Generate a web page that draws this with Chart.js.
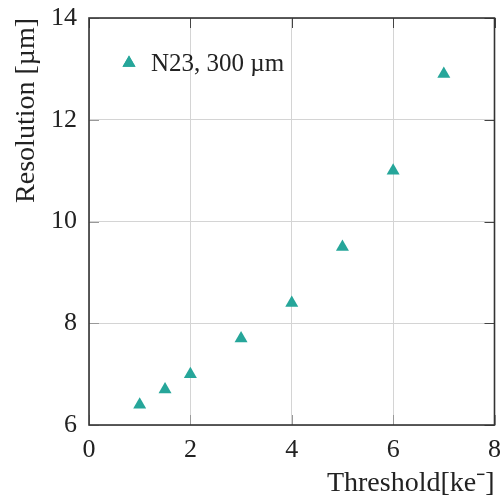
<!DOCTYPE html>
<html>
<head>
<meta charset="utf-8">
<script src="https://cdn.jsdelivr.net/npm/chart.js@4/dist/chart.umd.min.js"></script>
<style>
  html, body { margin: 0; padding: 0; background: #fff; }
  #wrap { width: 502px; height: 501px; }
</style>
</head>
<body>
<div id="wrap"><canvas id="chart" width="502" height="501"></canvas></div>
<script>
const thresholds = [1, 1.5, 2, 3, 4, 5, 6, 7];
const resolution = [6.4, 6.7, 7.0, 7.7, 8.4, 9.5, 11.0, 12.9];
const seriesLabel = "N23, 300 µm";
const xTicks = [0, 2, 4, 6, 8];
const yTicks = [6, 8, 10, 12, 14];

const teal = "#26a69a";
const serif = "'Liberation Serif', 'Times New Roman', serif";

// frame round the plot with pgfplots-style inward ticks
const framePlugin = {
  id: "frame",
  afterDraw(chart) {
    const { ctx, chartArea: a, scales } = chart;
    const len = 10;
    ctx.save();
    ctx.lineWidth = 1;
    xTicks.forEach((v) => {
      const px = Math.round(scales.x.getPixelForValue(v)) + 0.5;
      ctx.strokeStyle = "#999";
      ctx.beginPath(); ctx.moveTo(px, a.bottom); ctx.lineTo(px, a.bottom - len); ctx.stroke();
      ctx.strokeStyle = "#444";
      ctx.beginPath(); ctx.moveTo(px, a.top); ctx.lineTo(px, a.top + len); ctx.stroke();
    });
    yTicks.forEach((v) => {
      const py = Math.round(scales.y.getPixelForValue(v)) + 0.5;
      ctx.strokeStyle = "#999";
      ctx.beginPath(); ctx.moveTo(a.left, py); ctx.lineTo(a.left + len, py); ctx.stroke();
      ctx.strokeStyle = "#444";
      ctx.beginPath(); ctx.moveTo(a.right, py); ctx.lineTo(a.right - len, py); ctx.stroke();
    });
    ctx.strokeStyle = "#333";
    ctx.lineWidth = 1.6;
    ctx.strokeRect(a.left, a.top, a.right - a.left, a.bottom - a.top);
    ctx.restore();
  },
};

// legend drawn inside the plot, top left, without a box
const insideLegend = {
  id: "insideLegend",
  afterDatasetsDraw(chart) {
    const { ctx, chartArea: a } = chart;
    const ds = chart.data.datasets[0];
    const mx = a.left + 40, my = a.top + 45;
    ctx.save();
    ctx.fillStyle = ds.backgroundColor;
    const style = { pointStyle: "triangle", radius: ds.pointRadius, borderWidth: 0, rotation: 0 };
    if (Chart.helpers && Chart.helpers.drawPoint) {
      Chart.helpers.drawPoint(ctx, style, mx, my);
      ctx.fill();
    }
    ctx.fillStyle = "#222";
    ctx.font = "25px " + serif;
    ctx.textBaseline = "middle";
    ctx.textAlign = "left";
    ctx.fillText(ds.label, mx + 22, my + 1);
    ctx.restore();
  },
};

new Chart(document.getElementById("chart"), {
  type: "scatter",
  data: {
    datasets: [
      {
        label: seriesLabel,
        data: thresholds.map((x, i) => ({ x, y: resolution[i] })),
        pointStyle: "triangle",
        pointRadius: 7.5,
        pointHoverRadius: 7.5,
        backgroundColor: teal,
        borderColor: teal,
        borderWidth: 0,
      },
    ],
  },
  options: {
    responsive: false,
    animation: false,
    layout: { padding: { top: 18, right: 7, left: 0, bottom: 0 } },
    plugins: { legend: { display: false }, tooltip: { enabled: false } },
    scales: {
      x: {
        type: "linear",
        min: 0,
        max: 8,
        afterBuildTicks: (s) => { s.ticks = xTicks.map((v) => ({ value: v })); },
        afterFit: (s) => { s.height = 76; s.paddingLeft = 0; s.paddingRight = 0; },
        grid: { color: "#d4d4d4", drawTicks: false },
        border: { display: false },
        ticks: { color: "#222", padding: 10, maxRotation: 0, font: { family: serif, size: 26 } },
        title: {
          display: true,
          text: "Threshold[ke⁻]",
          align: "end",
          color: "#222",
          padding: { top: 0, bottom: 1 },
          font: { family: serif, size: 28, lineHeight: 1.2 },
        },
      },
      y: {
        type: "linear",
        min: 6,
        max: 14,
        afterBuildTicks: (s) => { s.ticks = yTicks.map((v) => ({ value: v })); },
        afterFit: (s) => { s.width = 89; s.paddingTop = 0; s.paddingBottom = 0; },
        grid: { color: "#d4d4d4", drawTicks: false },
        border: { display: false },
        ticks: { color: "#222", padding: 12, font: { family: serif, size: 26 } },
        title: {
          display: true,
          text: "Resolution [µm]",
          align: "end",
          color: "#222",
          padding: { top: 10, bottom: 0 },
          font: { family: serif, size: 28, lineHeight: 1.2 },
        },
      },
    },
  },
  plugins: [framePlugin, insideLegend],
});
</script>
</body>
</html>
